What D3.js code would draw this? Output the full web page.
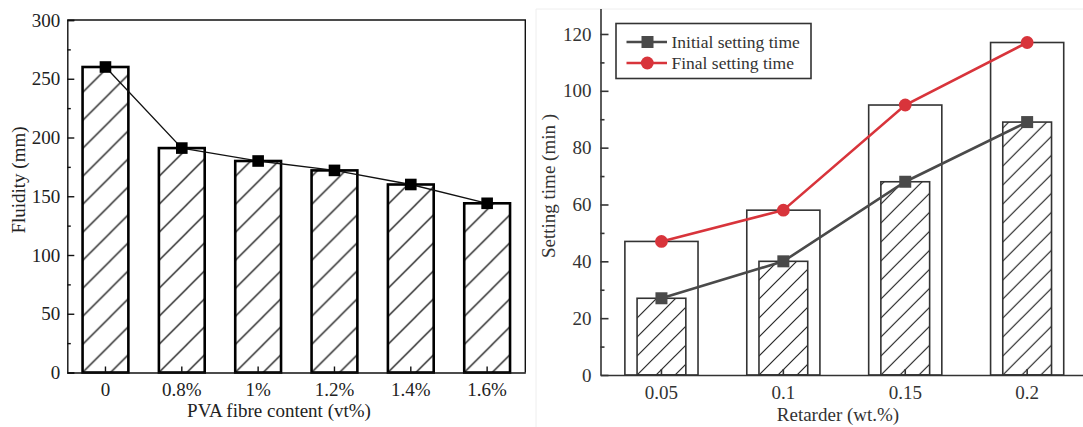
<!DOCTYPE html>
<html>
<head>
<meta charset="utf-8">
<script src="https://cdn.jsdelivr.net/npm/d3@7"></script>
<style>
  html, body { margin: 0; padding: 0; background: #fff; }
  svg { display: block; }
  text { font-family: "Liberation Serif", "DejaVu Serif", serif; }
</style>
</head>
<body>
<svg id="chart" width="1083" height="427"></svg>
<script>
// ---------- data ----------
const fibreCats = ["0", "0.8%", "1%", "1.2%", "1.4%", "1.6%"];
const fluidity = [260, 191, 180, 172, 160, 144];
const fluidityTicks = [0, 50, 100, 150, 200, 250, 300];

const retarderCats = ["0.05", "0.1", "0.15", "0.2"];
const initialTime = [27, 40, 68, 89];
const finalTime = [47, 58, 95, 117];
const settingTicks = [0, 20, 40, 60, 80, 100, 120];
const seriesNames = ["Initial setting time", "Final setting time"];

// ---------- setup ----------
const svg = d3.select("#chart");
const defs = svg.append("defs");
const FS = 19;

function hatch(id, x0, y0, step, color, width) {
  const p = defs.append("pattern")
    .attr("id", id)
    .attr("patternUnits", "userSpaceOnUse")
    .attr("x", x0).attr("y", y0)
    .attr("width", step).attr("height", step);
  p.append("path")
    .attr("d", `M0,${step} L${step},0 M${-step/2},${step/2} L${step/2},${-step/2} M${step/2},${step*1.5} L${step*1.5},${step/2}`)
    .attr("stroke", color).attr("stroke-width", width).attr("fill", "none");
}

// faint background panel edge of the right figure
svg.append("path")
  .attr("d", "M536,427 L536,9 L1083,9")
  .attr("fill", "none").attr("stroke", "#eeeeee").attr("stroke-width", 1);

// ================= LEFT CHART =================
const L = { left: 67.3, right: 525.3, top: 20, bottom: 372.5 };
const xL = d3.scaleBand().domain(fibreCats).range([L.left, L.right])
  .paddingInner(0.4).paddingOuter(0.2);
const yL = d3.scaleLinear().domain([0, 300]).range([L.bottom, L.top]);
const gL = svg.append("g");

// bars
fibreCats.forEach((c, i) => {
  hatch("hL" + i, xL(c), yL(0), 28, "#111", 1.3);
});
gL.selectAll("rect.bar").data(fluidity).join("rect")
  .attr("class", "bar")
  .attr("x", (d, i) => xL(fibreCats[i]))
  .attr("y", d => yL(d))
  .attr("width", xL.bandwidth())
  .attr("height", d => yL(0) - yL(d))
  .attr("fill", (d, i) => `url(#hL${i})`)
  .attr("stroke", "#000").attr("stroke-width", 2.6);

// frame (top + right)
gL.append("path")
  .attr("d", `M${L.left},${L.top} L${L.right},${L.top} L${L.right},${L.bottom}`)
  .attr("fill", "none").attr("stroke", "#111").attr("stroke-width", 1.4);

// y axis
const yAxL = gL.append("g").attr("transform", `translate(${L.left},0)`)
  .call(d3.axisLeft(yL).tickValues(fluidityTicks).tickSize(-7).tickPadding(7));
gL.append("g").attr("transform", `translate(${L.left},0)`)
  .call(d3.axisLeft(yL).tickValues(d3.range(25, 300, 50)).tickSize(-3.5).tickFormat(""))
  .call(g => g.select(".domain").remove());
// x axis
const xAxL = gL.append("g").attr("transform", `translate(0,${L.bottom})`)
  .call(d3.axisBottom(xL).tickSize(-6).tickPadding(10.5).tickSizeOuter(0));
gL.selectAll(".domain, .tick line").attr("stroke", "#111").attr("stroke-width", 1.4);
gL.selectAll(".tick text").attr("font-size", FS).attr("fill", "#222")
  .attr("font-family", '"Liberation Serif", serif');

// line + markers
const lineL = d3.line().x((d, i) => xL(fibreCats[i]) + xL.bandwidth() / 2).y(d => yL(d));
gL.append("path").datum(fluidity).attr("d", lineL)
  .attr("fill", "none").attr("stroke", "#111").attr("stroke-width", 1.3);
gL.selectAll("rect.mk").data(fluidity).join("rect")
  .attr("class", "mk")
  .attr("x", (d, i) => xL(fibreCats[i]) + xL.bandwidth() / 2 - 5.8)
  .attr("y", d => yL(d) - 5.8)
  .attr("width", 11.6).attr("height", 11.6).attr("fill", "#000");

// titles
svg.append("text").attr("x", 279).attr("y", 417).attr("text-anchor", "middle")
  .attr("font-size", FS).attr("fill", "#222").text("PVA fibre content (vt%)");
svg.append("text").attr("transform", "translate(25,180) rotate(-90)")
  .attr("text-anchor", "middle").attr("font-size", FS).attr("fill", "#222")
  .text("Fluidity (mm)");

// ================= RIGHT CHART =================
const R = { left: 600.5, right: 1088.1, top: 8.4, bottom: 375 };
const xR = d3.scaleBand().domain(retarderCats).range([R.left, R.right])
  .paddingInner(0.4).paddingOuter(0.2);
const yR = d3.scaleLinear().domain([0, 129]).range([R.bottom, R.top]);
const gR = svg.append("g");
const step = xR.step();
const innerW = step * 0.4;
const cx = c => xR(c) + xR.bandwidth() / 2;

// outer (final) bars
gR.selectAll("rect.outer").data(finalTime).join("rect")
  .attr("class", "outer")
  .attr("x", (d, i) => xR(retarderCats[i]))
  .attr("y", d => yR(d))
  .attr("width", xR.bandwidth())
  .attr("height", d => yR(0) - yR(d))
  .attr("fill", "#fff").attr("stroke", "#333").attr("stroke-width", 1.6);
// inner (initial) hatched bars
retarderCats.forEach((c, i) => hatch("hR" + i, cx(c) - innerW / 2, yR(0), 19, "#222", 1.2));
gR.selectAll("rect.inner").data(initialTime).join("rect")
  .attr("class", "inner")
  .attr("x", (d, i) => cx(retarderCats[i]) - innerW / 2)
  .attr("y", d => yR(d))
  .attr("width", innerW)
  .attr("height", d => yR(0) - yR(d))
  .attr("fill", (d, i) => `url(#hR${i})`)
  .attr("stroke", "#333").attr("stroke-width", 1.6);

// axes
gR.append("g").attr("transform", `translate(${R.left},0)`)
  .call(d3.axisLeft(yR).tickValues(settingTicks).tickSize(-8).tickPadding(9).tickSizeOuter(0));
gR.append("g").attr("transform", `translate(${R.left},0)`)
  .call(d3.axisLeft(yR).tickValues(d3.range(10, 130, 20)).tickSize(-4).tickFormat(""))
  .call(g => g.select(".domain").remove());
gR.append("g").attr("transform", `translate(0,${R.bottom})`)
  .call(d3.axisBottom(xR).tickSize(-6).tickPadding(11).tickSizeOuter(0));
gR.selectAll(".domain, .tick line").attr("stroke", "#333").attr("stroke-width", 1.6);
gR.selectAll(".tick text").attr("font-size", FS).attr("fill", "#333")
  .attr("font-family", '"Liberation Serif", serif');

// lines
const colInit = "#4a4a4a", colFinal = "#d8343b";
const lineR = d3.line().x((d, i) => cx(retarderCats[i])).y(d => yR(d));
gR.append("path").datum(initialTime).attr("d", lineR)
  .attr("fill", "none").attr("stroke", colInit).attr("stroke-width", 2.6);
gR.append("path").datum(finalTime).attr("d", lineR)
  .attr("fill", "none").attr("stroke", colFinal).attr("stroke-width", 2.6);
gR.selectAll("rect.mk").data(initialTime).join("rect")
  .attr("class", "mk")
  .attr("x", (d, i) => cx(retarderCats[i]) - 6).attr("y", d => yR(d) - 6)
  .attr("width", 12).attr("height", 12).attr("fill", colInit);
gR.selectAll("circle.mk").data(finalTime).join("circle")
  .attr("class", "mk")
  .attr("cx", (d, i) => cx(retarderCats[i])).attr("cy", d => yR(d))
  .attr("r", 6.4).attr("fill", colFinal);

// legend
const lg = svg.append("g");
lg.append("rect").attr("x", 616).attr("y", 23.5).attr("width", 195).attr("height", 55)
  .attr("fill", "#fff").attr("stroke", "#333").attr("stroke-width", 1.6);
[colInit, colFinal].forEach((col, i) => {
  const yy = 42 + i * 21;
  lg.append("line").attr("x1", 626.5).attr("x2", 667).attr("y1", yy).attr("y2", yy)
    .attr("stroke", col).attr("stroke-width", 2.6);
  if (i === 0) {
    lg.append("rect").attr("x", 641.5).attr("y", yy - 6).attr("width", 12).attr("height", 12).attr("fill", col);
  } else {
    lg.append("circle").attr("cx", 647.3).attr("cy", yy).attr("r", 6.4).attr("fill", col);
  }
  lg.append("text").attr("x", 671.5).attr("y", yy + 6).attr("font-size", 17.5)
    .attr("fill", "#333").text(seriesNames[i]);
});

// titles
svg.append("text").attr("x", 838).attr("y", 421).attr("text-anchor", "middle")
  .attr("font-size", FS).attr("fill", "#333").text("Retarder (wt.%)");
svg.append("text").attr("transform", "translate(555,186) rotate(-90)")
  .attr("text-anchor", "middle").attr("font-size", FS).attr("fill", "#333")
  .text("Setting time (min )");
</script>
</body>
</html>
